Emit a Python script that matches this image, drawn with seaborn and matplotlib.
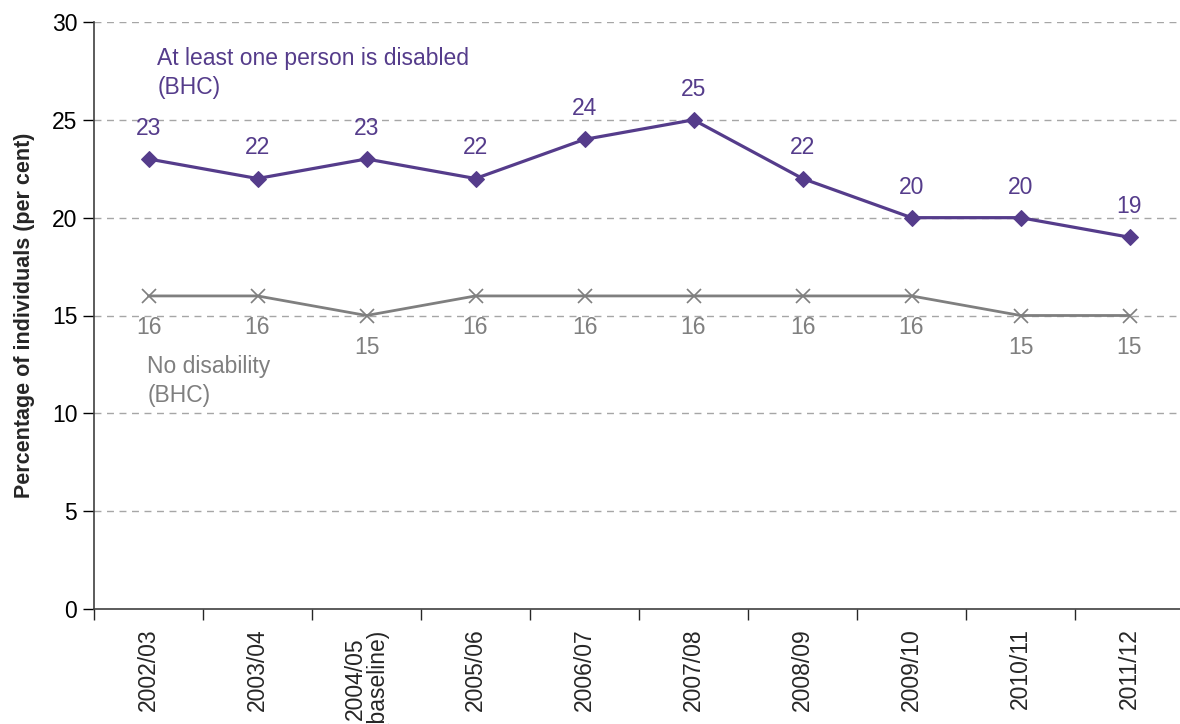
import matplotlib
matplotlib.use("Agg")
import matplotlib.pyplot as plt
import seaborn as sns
import pandas as pd
import numpy as np

years = ["2002/03", "2003/04", "2004/05\n(baseline)", "2005/06", "2006/07",
         "2007/08", "2008/09", "2009/10", "2010/11", "2011/12"]
disabled = [23, 22, 23, 22, 24, 25, 22, 20, 20, 19]
no_disability = [16, 16, 15, 16, 16, 16, 16, 16, 15, 15]

PURPLE = "#553C8B"
GREY = "#7F7F7F"
FS = 16.5

sns.set_theme(style="white")
plt.rcParams["font.family"] = ["Liberation Sans", "DejaVu Sans"]

fig = plt.figure(figsize=(11.8, 7.24), dpi=100)
ax = fig.add_axes([94 / 1180, 115 / 724, 1090 / 1180, 587 / 724])

pos = np.arange(len(years))
df = pd.DataFrame({"pos": pos, "disabled": disabled, "none": no_disability})

sns.lineplot(data=df, x="pos", y="disabled", ax=ax, color=PURPLE, lw=2.3,
             marker="D", markersize=8.5, markeredgecolor=PURPLE, zorder=3)
sns.lineplot(data=df, x="pos", y="none", ax=ax, color=GREY, lw=2.0,
             marker="x", markersize=10, markeredgewidth=1.2, markeredgecolor=GREY, zorder=3)

for x, v in zip(pos, disabled):
    ax.annotate(str(v), (x, v), xytext=(0, 22), textcoords="offset points",
                ha="center", va="center", color=PURPLE, fontsize=FS)
for x, v in zip(pos, no_disability):
    ax.annotate(str(v), (x, v), xytext=(0, -23), textcoords="offset points",
                ha="center", va="center", color=GREY, fontsize=FS)

ax.text(0.08, 27.4, "At least one person is disabled\n(BHC)", color=PURPLE,
        fontsize=FS, ha="left", va="center", linespacing=1.35)
ax.text(-0.01, 11.65, "No disability\n(BHC)", color=GREY,
        fontsize=FS, ha="left", va="center", linespacing=1.35)

ax.set_xlim(-0.5, len(years) - 0.5)
ax.set_ylim(0, 30)
ax.set_yticks(range(0, 31, 5))
ax.tick_params(axis="y", labelsize=FS, length=8, width=1, direction="out",
               left=True, colors="black", pad=4)
ax.set_xticks(pos)
ax.set_xticklabels(years, rotation=90, fontsize=FS, va="top", ha="center",
                   linespacing=0.95)
ax.tick_params(axis="x", which="major", length=0, pad=14)
ax.set_xticks(np.arange(-0.5, len(years), 1.0), minor=True)
ax.tick_params(axis="x", which="minor", length=8, width=1, bottom=True, direction="out")

for y in range(5, 31, 5):
    ax.axhline(y, color="#A6A6A6", lw=1, ls=(0, (5, 4)), zorder=1)

for side in ["top", "right"]:
    ax.spines[side].set_visible(False)
for side in ["left", "bottom"]:
    ax.spines[side].set_color("#404040")
    ax.spines[side].set_linewidth(1.2)

ax.set_xlabel("")
ax.set_ylabel("Percentage of individuals (per cent)", fontsize=15.5,
              fontweight="bold", labelpad=12)

fig.savefig("out.png", dpi=100)
